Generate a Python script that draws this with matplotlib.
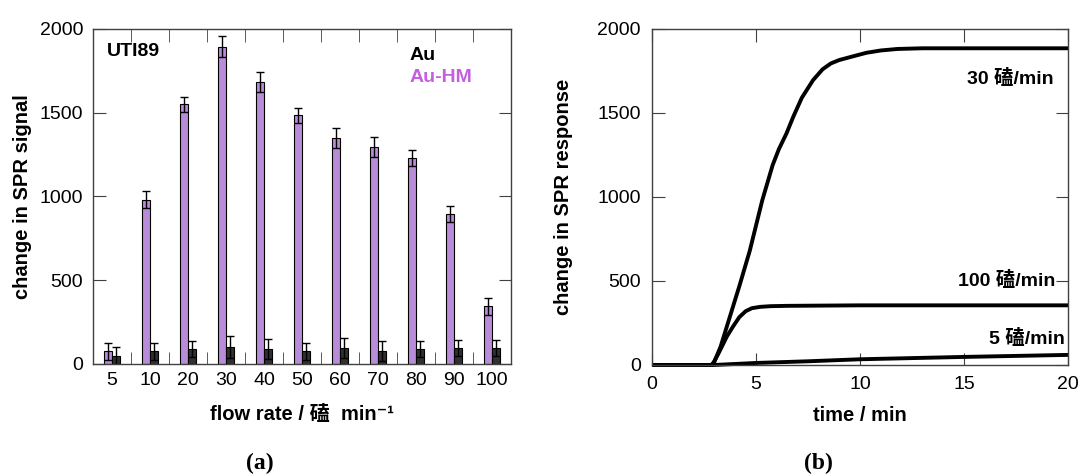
import numpy as np
import matplotlib
matplotlib.use("Agg")
import matplotlib.pyplot as plt

plt.rcParams['font.family'] = ['Liberation Sans', 'Noto Sans CJK SC', 'DejaVu Sans']

# panel (a): bar data
flow_labels = ["5", "10", "20", "30", "40", "50", "60", "70", "80", "90", "100"]
au_hm = [75, 980, 1550, 1895, 1685, 1485, 1350, 1295, 1230, 895, 345]
au_hm_err = [50, 50, 45, 65, 60, 45, 60, 60, 50, 50, 50]
au = [50, 75, 90, 100, 90, 75, 95, 80, 90, 95, 95]
au_err = [50, 50, 50, 65, 60, 50, 60, 60, 50, 50, 50]

# panel (b): sensorgrams
t_30 = [0, 2.85, 3.0, 3.3, 3.7, 4.2, 4.7, 5.3, 5.8, 6.1, 6.46, 6.8, 7.2, 7.74,
        8.2, 8.6, 9.0, 9.6, 10.3, 11.0, 11.8, 13, 15, 20]
v_30 = [0, 0, 20, 110, 270, 470, 680, 980, 1190, 1285, 1377, 1480, 1590, 1695,
        1760, 1795, 1815, 1835, 1858, 1872, 1881, 1885, 1885, 1885]
t_100 = [0, 2.9, 3.2, 3.6, 3.9, 4.2, 4.5, 4.8, 5.2, 5.7, 6.5, 10, 20]
v_100 = [0, 0, 70, 170, 230, 285, 320, 338, 346, 350, 352, 355, 355]
t_5 = [0, 3.0, 5, 7.5, 10, 15, 20]
v_5 = [0, 0, 12, 22, 34, 48, 60]

purple = "#b98cd8"
dark = "#303030"
spine_c = "#404040"

fig = plt.figure(figsize=(10.82, 4.74), dpi=100)
ax1 = fig.add_axes([0.0860, 0.2321, 0.3863, 0.7068])
ax2 = fig.add_axes([0.6026, 0.2300, 0.3845, 0.7089])

x = np.arange(len(flow_labels))
w = 0.2
ekw = dict(elinewidth=1.0, capthick=1.0, ecolor="black")
ax1.bar(x - 0.1, au_hm, w, color=purple, edgecolor="black", linewidth=0.8,
        yerr=au_hm_err, capsize=3, error_kw=ekw)
ax1.bar(x + 0.1, au, w, color=dark, edgecolor="black", linewidth=0.8,
        yerr=au_err, capsize=3, error_kw=ekw)
ax1.set_xlim(-0.5, len(flow_labels) - 0.5)
ax1.set_ylim(0, 2000)
ax1.set_yticks([0, 500, 1000, 1500, 2000])
ax1.set_xticks(x)
ax1.set_xticklabels(flow_labels)
ax1.set_xticks(x[:-1] + 0.5, minor=True)
ax1.tick_params(axis="x", which="major", length=0, pad=6, labelsize=14)
ax1.tick_params(axis="x", which="minor", direction="in", length=9,
                top=True, bottom=True, color=spine_c)
ax1.tick_params(axis="y", direction="in", length=9, right=True, pad=7,
                labelsize=14, color=spine_c)
ax1.set_ylabel("change in SPR signal", fontsize=14.5, fontweight="bold")
ax1.yaxis.set_label_coords(-0.146, 0.5)
ax1.set_xlabel("flow rate / 磕  min\u207b\u00b9", fontsize=14.5, fontweight="bold",
               labelpad=11)
ax1.text(0.033, 0.932, "UTI89", transform=ax1.transAxes, fontsize=14,
         fontweight="bold", va="center", ha="left")
ax1.text(0.758, 0.922, "Au", transform=ax1.transAxes, fontsize=14,
         fontweight="bold", va="center", ha="left", color="black")
ax1.text(0.758, 0.854, "Au-HM", transform=ax1.transAxes, fontsize=14,
         fontweight="bold", va="center", ha="left", color="#c45fe0")

for ln_t, ln_v in [(t_30, v_30), (t_100, v_100), (t_5, v_5)]:
    ax2.plot(ln_t, ln_v, color="black", lw=2.8, clip_on=False,
             solid_capstyle="butt", solid_joinstyle="round")
ax2.set_xlim(0, 20)
ax2.set_ylim(0, 2000)
ax2.set_xticks([0, 5, 10, 15, 20])
ax2.set_yticks([0, 500, 1000, 1500, 2000])
ax2.tick_params(axis="both", direction="in", length=9, top=True, right=True,
                labelsize=14, color=spine_c)
ax2.tick_params(axis="x", pad=8)
ax2.tick_params(axis="y", pad=8)
ax2.set_ylabel("change in SPR response", fontsize=14.5, fontweight="bold")
ax2.yaxis.set_label_coords(-0.19, 0.5)
ax2.set_xlabel("time / min", fontsize=14.5, fontweight="bold", labelpad=9)
lab_kw = dict(fontsize=14, fontweight="bold", ha="right", va="center")
ax2.text(19.33, 1707, "30 磕/min", **lab_kw)
ax2.text(19.4, 501, "100 磕/min", **lab_kw)
ax2.text(19.85, 155, "5 磕/min", **lab_kw)

for a in (ax1, ax2):
    for s in a.spines.values():
        s.set_color(spine_c)
        s.set_linewidth(1.0)

fig.text(0.240, 0.023, "(a)", family="Liberation Serif", fontweight="bold",
         fontsize=17, ha="center", va="center")
fig.text(0.756, 0.023, "(b)", family="Liberation Serif", fontweight="bold",
         fontsize=17, ha="center", va="center")

fig.savefig("out.png", dpi=100)
